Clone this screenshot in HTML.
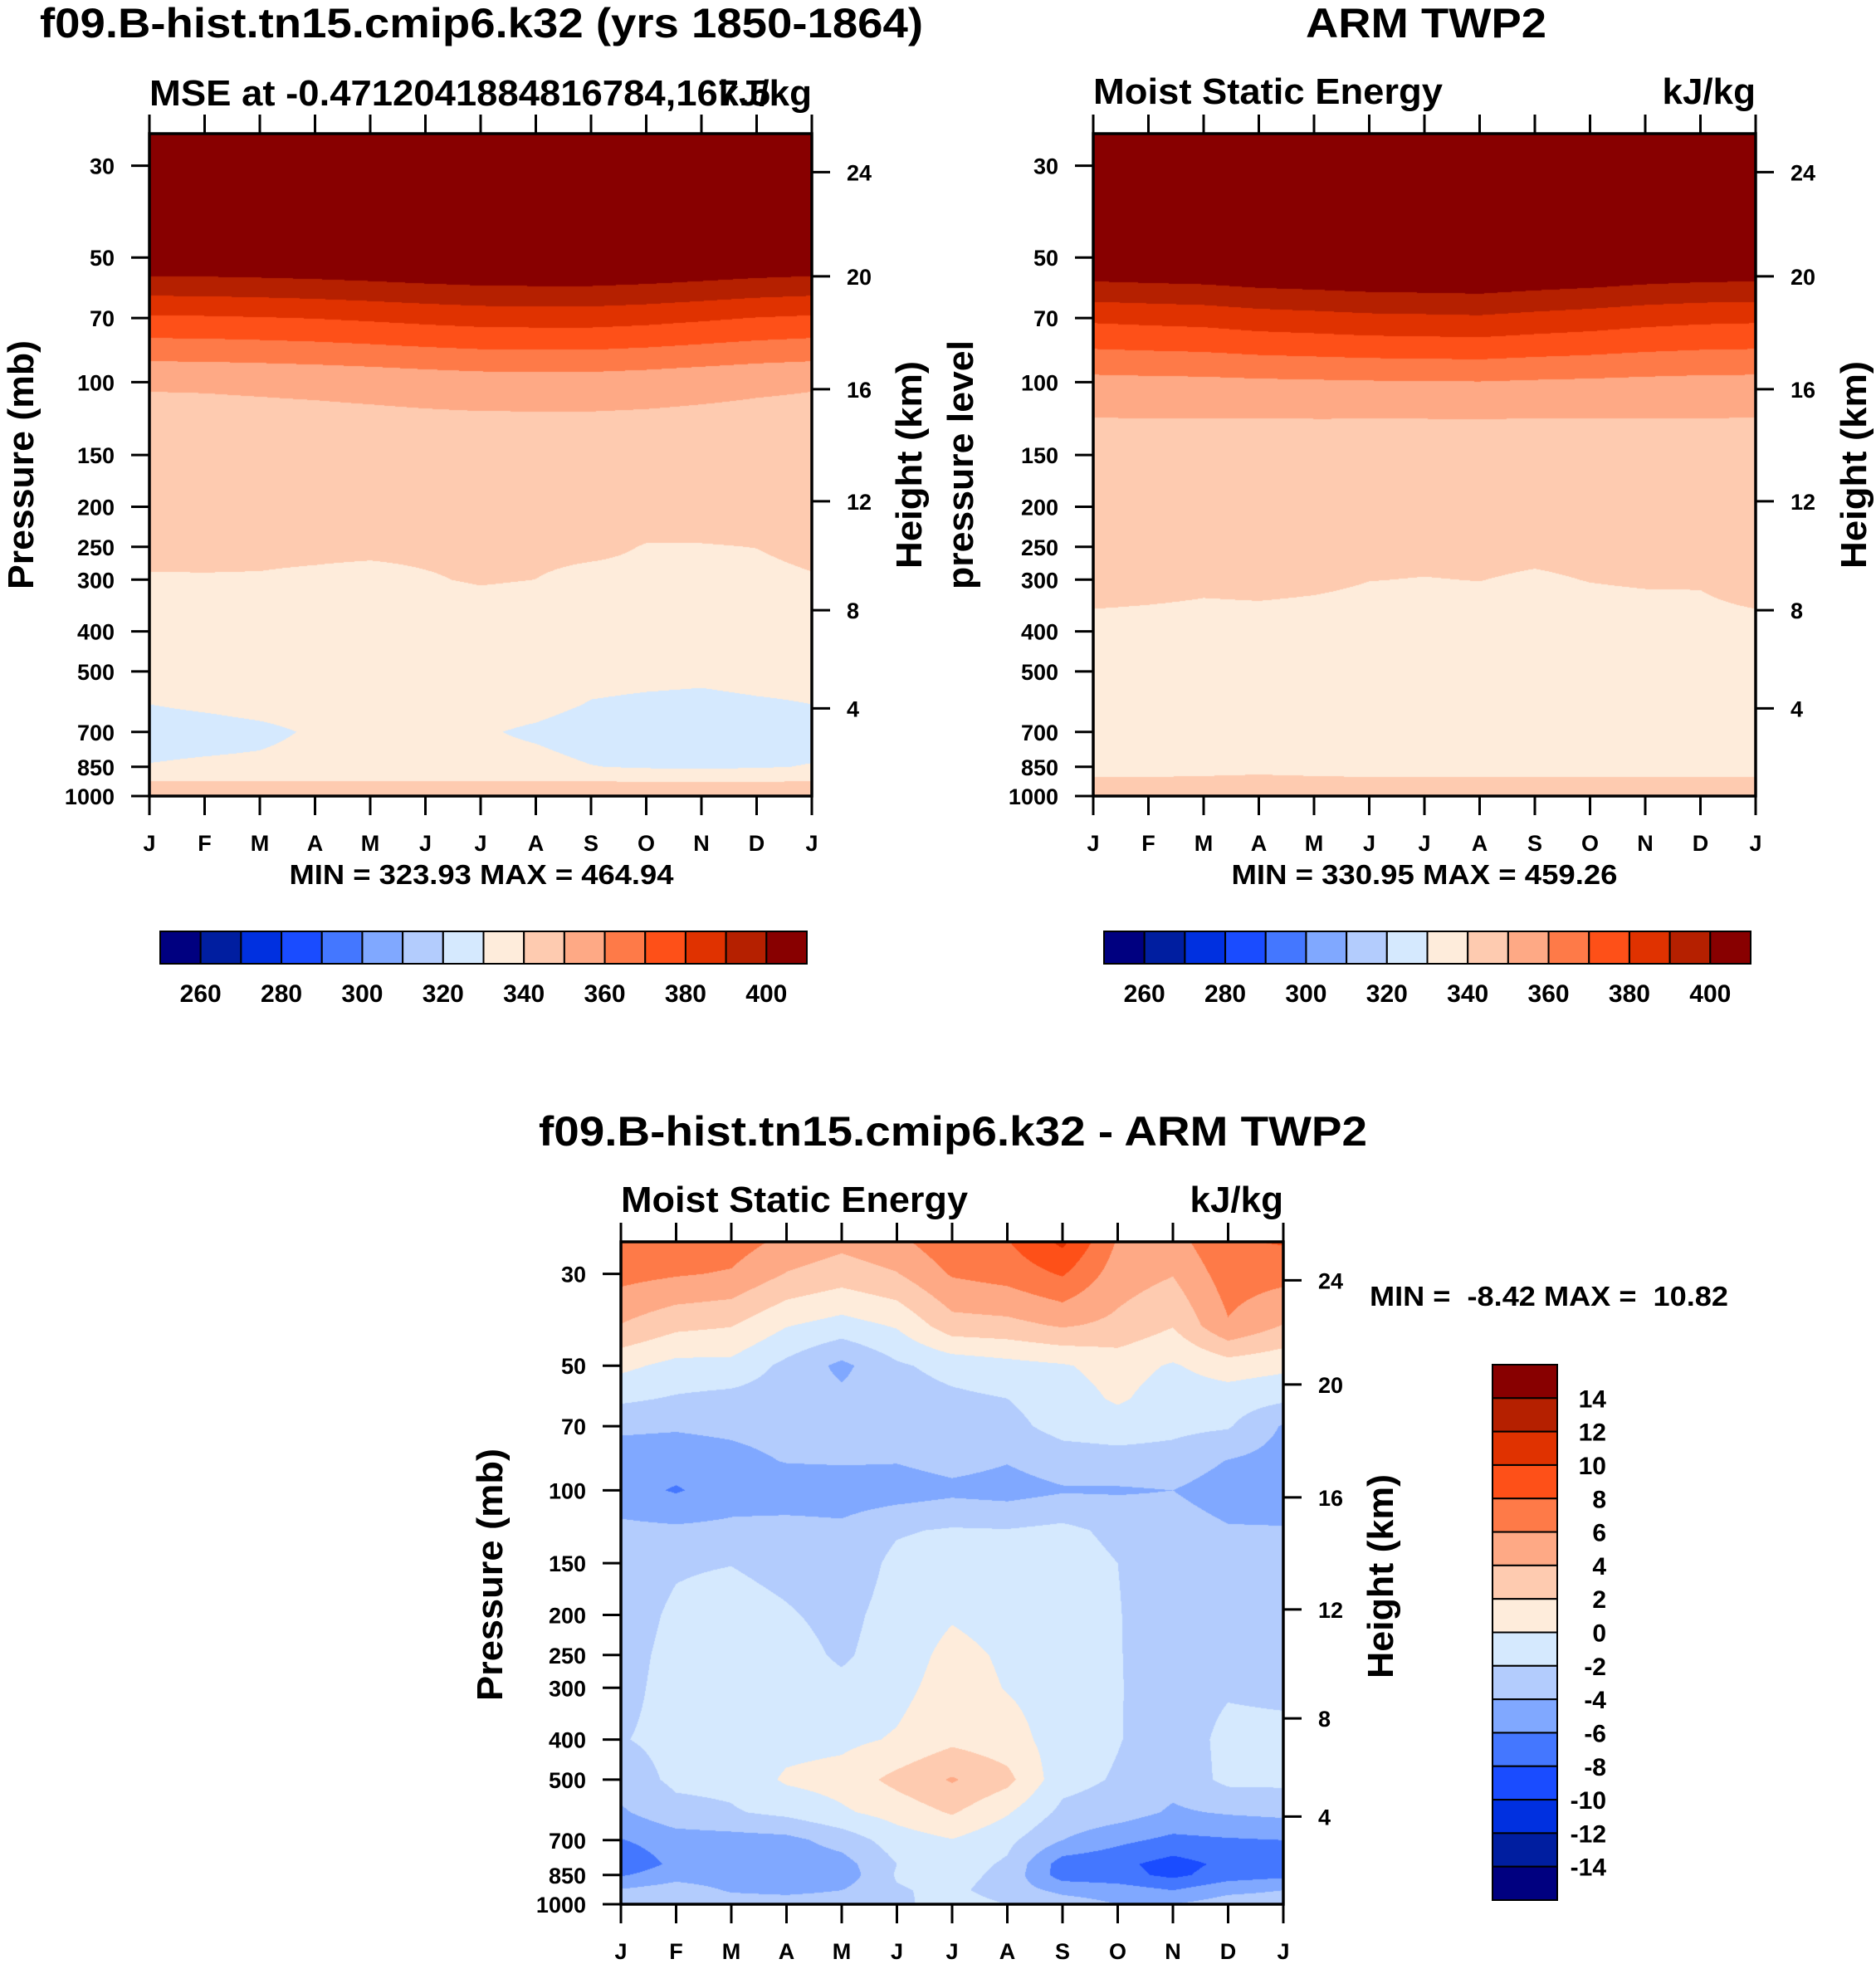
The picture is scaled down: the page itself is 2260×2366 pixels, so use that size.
<!DOCTYPE html>
<html><head><meta charset="utf-8">
<style>
html,body{margin:0;padding:0;background:#fff;}
#root{position:relative;width:2260px;height:2366px;overflow:hidden;background:#fff;font-family:"Liberation Sans",Arial,sans-serif;}
canvas{position:absolute;}
svg{position:absolute;left:0;top:0;}
text{font-family:"Liberation Sans",Arial,sans-serif;font-weight:bold;fill:#000;}
</style></head>
<body>
<div id="root">
<canvas id="c1" width="798" height="798" style="left:180px;top:161px"></canvas>
<canvas id="c2" width="798" height="798" style="left:1317px;top:161px"></canvas>
<canvas id="c3" width="798" height="798" style="left:748px;top:1496px"></canvas>
<svg id="ov" width="2260" height="2366">
<text x="580" y="45" font-size="50" text-anchor="middle" textLength="1064" lengthAdjust="spacingAndGlyphs">f09.B-hist.tn15.cmip6.k32 (yrs 1850-1864)</text>
<text x="1718" y="45" font-size="50" text-anchor="middle" textLength="290" lengthAdjust="spacingAndGlyphs">ARM TWP2</text>
<text x="180" y="127" font-size="44" textLength="748" lengthAdjust="spacingAndGlyphs">MSE at -0.4712041884816784,167.5</text>
<text x="978" y="127" font-size="44" text-anchor="end">kJ/kg</text>
<text x="1317" y="125" font-size="44" textLength="421" lengthAdjust="spacingAndGlyphs">Moist Static Energy</text>
<text x="2115" y="125" font-size="44" text-anchor="end">kJ/kg</text>
<text x="1148" y="1380" font-size="50" text-anchor="middle" textLength="998" lengthAdjust="spacingAndGlyphs">f09.B-hist.tn15.cmip6.k32 - ARM TWP2</text>
<text x="748" y="1460" font-size="44" textLength="418" lengthAdjust="spacingAndGlyphs">Moist Static Energy</text>
<text x="1546" y="1460" font-size="44" text-anchor="end">kJ/kg</text>
<text x="580" y="1065" font-size="33" text-anchor="middle" textLength="463" lengthAdjust="spacingAndGlyphs">MIN = 323.93 MAX = 464.94</text>
<text x="1716" y="1065" font-size="33" text-anchor="middle" textLength="465" lengthAdjust="spacingAndGlyphs">MIN = 330.95 MAX = 459.26</text>
<text x="1650" y="1573" font-size="33" textLength="432" lengthAdjust="spacingAndGlyphs" xml:space="preserve">MIN =  -8.42 MAX =  10.82</text>
<text transform="translate(40,560) rotate(-90)" font-size="44" text-anchor="middle" textLength="300" lengthAdjust="spacingAndGlyphs">Pressure (mb)</text>
<text transform="translate(1110,560) rotate(-90)" font-size="44" text-anchor="middle" textLength="250" lengthAdjust="spacingAndGlyphs">Height (km)</text>
<text transform="translate(1172,560) rotate(-90)" font-size="44" text-anchor="middle" textLength="300" lengthAdjust="spacingAndGlyphs">pressure level</text>
<text transform="translate(2248,560) rotate(-90)" font-size="44" text-anchor="middle" textLength="250" lengthAdjust="spacingAndGlyphs">Height (km)</text>
<text transform="translate(605,1897) rotate(-90)" font-size="44" text-anchor="middle" textLength="304" lengthAdjust="spacingAndGlyphs">Pressure (mb)</text>
<text transform="translate(1678,1899) rotate(-90)" font-size="44" text-anchor="middle" textLength="246" lengthAdjust="spacingAndGlyphs">Height (km)</text>
</svg>
</div>
<script>
// ---------- data ----------
const months = ["J","F","M","A","M","J","J","A","S","O","N","D","J"];
const pressureTicks = [30,50,70,100,150,200,250,300,400,500,700,850,1000];
const heightTicks = [24,20,16,12,8,4];
const heightTickPressure = [31.1,55.5,104,194,355.6,614];
const fullBounds = [260,270,280,290,300,310,320,330,340,350,360,370,380,390,400];
const fullLabels = [260,280,300,320,340,360,380,400];
const diffBounds = [-14,-12,-10,-8,-6,-4,-2,0,2,4,6,8,10,12,14];
const palette = ["#000080","#001ea0","#0030e0","#1a4cff","#4477ff","#80a8ff","#b3ccfd","#d5e9fe","#feecdb","#fecbb0","#fea985","#fe7a48","#fe5018","#e03200","#b52000","#880000"];

// model (kJ/kg), rows by pressure level, 13 monthly columns J..D,J
const fullLevels = [25,30,50,70,100,150,200,250,300,400,500,600,700,850,925,1000];
const m25 = [465,465,465,465,465.5,466,466,466,466,466,465.5,465,465];
const m30 = [450,450.3,450.8,451.5,452.5,453.8,454.8,455,455,454,452.5,451,450];
const m50 = [409.5,409.7,410.2,410.9,411.8,412.9,413.8,414,414,413.1,411.8,410.4,409.5];
const m70 = [378.6,378.9,379.5,380.3,381.5,382.9,384,384.3,384.3,383.2,381.5,379.7,378.6];
const m100 = [351,351.2,351.7,352.3,353.2,354.3,355.2,355.4,355.4,354.5,353.2,351.9,351];
const m150 = [343.4,343.3,343.2,343,342.7,342.4,342.1,342,342,342.3,342.7,343.1,343.4];
const m200 = [342,342,342,342,342,342,342,342,342,342,342,342,342];
const m250 = [341,341,341,341,341,341,341,341,341,339.8,339.8,340.05,341];
const m300 = [339.67,339.73,339.65,339.2,338.6,339.57,340.5,339.98,338.8,339,339,339,339.67];
const m400 = [336,336,336,336,336,336,336.1,336,336,336,336,336,336];
const m500 = [333,333,333,334,335,335,334,333,333,332.5,332,333,333];
const m600 = [330,331.5,333,334,335,335,334,333,329.5,328.5,328,329,330];
const m700 = [326,326.5,328,331,332.5,332.5,331,328.5,325.5,325,324.5,325.5,326];
const m850 = [330.5,331.5,331.8,333,334,334,333,333,330.3,329,328.5,329.2,330.5];
const m925 = [340.5,340.5,340.5,340.5,340.5,340.5,340.5,340.5,340.5,340.2,340.2,340.2,340.5];
const m1000 = [343,343,343,343,343.5,343.5,343.5,343,343,343,343,343,343];
const modelRows = [m25,m30,m50,m70,m100,m150,m200,m250,m300,m400,m500,m600,m700,m850,m925,m1000];

// observations (ARM TWP2)
const o25 = [459,459,459,459,459,459,459,459,459,459,459,459,459];
const o30 = [445,445.6,446,447.2,447.7,448.4,448.7,449,448,447.2,446,445.3,445];
const o50 = [411.7,412.4,413,414.5,415.2,416.1,416.4,416.8,415.5,414.5,413,412.1,411.7];
const o70 = [382,382.9,383.7,385.6,386.6,387.8,388.2,388.7,387,385.6,383.7,382.5,382];
const o100 = [357.1,357.5,357.8,358.5,358.9,359.3,359.5,359.7,359,358.5,357.8,357.3,357.1];
const o150 = [342.6,342.3,342.1,341.5,341.2,340.8,340.6,340.5,341,341.5,342.1,342.5,342.6];
const o200 = [343,342.8,342.6,342.3,342,341.8,341.6,341.5,341.7,342,342.3,342.7,343];
const o250 = [342.8,342.4,341.8,342,341.6,341.2,341,341.2,341,341.2,341.4,341.5,342.8];
const o300 = [342.6,341.9,341.1,341.4,340.86,340.07,339.9,340.07,339.5,340.12,340.44,340.5,342.6];
const o400 = [338,338,338,338,338,338,338,338,338,338,338,338,338];
const o500 = [336,336,336,336,336,336,336,336,336,336,336,336,336];
const o600 = [333.5,333.5,333.5,333.5,333.5,333.5,333.5,333.5,333.5,333.5,333.5,333.5,333.5];
const o700 = [332,332,332,332,332,332,332,332,332,332,332,332,332];
const o850 = [338,338,338.5,339,338.5,338,338,338,338,338,338,338,338];
const o925 = [341,341,341,341,341,341,341,341,341,341,341,341,341];
const o1000 = [343,343,343,343,343,343,343,343,343,343,343,343,343];
const obsRows = [o25,o30,o50,o70,o100,o150,o200,o250,o300,o400,o500,o600,o700,o850,o925,o1000];

// difference (model - obs)
const diffLevels = [25,30,40,50,60,70,85,100,125,150,200,250,300,400,500,600,700,800,850,925,1000];
const d25 = [7.3,7.5,7,5.5,4.6,5.5,7.5,7.9,10.5,5.8,5.2,7.8,8.2];
const d30 = [6.7,6.2,5.8,3.9,3,3.9,6.2,6.8,8.2,5,4.1,7,6.7];
const d40 = [3.9,2.5,2.1,0.1,-0.8,0.2,3.2,3.4,4.2,3.5,2.1,5.8,3.9];
const d50 = [0.5,-0.6,-0.6,-2.5,-4.5,-2.3,-1.3,-0.7,-0.2,0.8,-0.2,1,0.5];
const d60 = [-1.6,-2.2,-2.6,-3,-3.5,-3,-2.4,-2,-1,0.3,-1,-1,-1.6];
const d70 = [-3.7,-3.8,-3.6,-3.3,-3,-3,-3,-2.6,-1.3,-1,-1.5,-1.8,-4.2];
const d85 = [-4.8,-5,-4.6,-3.9,-3.8,-3.9,-3.3,-3.9,-3,-2.8,-2.8,-4.1,-4.8];
const d100 = [-5.2,-6.2,-5,-5.3,-5.2,-5,-4.5,-4.8,-4.2,-4.2,-4,-5,-5.5];
const d125 = [-3.5,-3.6,-3.5,-3.2,-3.5,-2.2,-1.8,-1.9,-1.5,-2.5,-3,-3.8,-3.8];
const d150 = [-3,-2.2,-2.05,-2.6,-3.3,-1.5,-1,-1.2,-1,-2,-3,-3,-3];
const d200 = [-2.8,-1.7,-1.2,-1.8,-2.6,-1.2,-0.2,-0.8,-0.8,-1.9,-3.2,-2.8,-2.8];
const d250 = [-2.6,-1.5,-1,-1.2,-2.3,-1,0.6,-0.3,-0.6,-1.9,-3,-2.6,-2.6];
const d300 = [-2.5,-1.4,-1,-1,-1.5,-0.6,0.9,-0.1,-0.8,-1.9,-2.8,-2.2,-2.4];
const d400 = [-2.1,-1.5,-1,-0.7,-0.5,0.2,1.5,0.8,-0.9,-1.9,-3,-1.5,-1.5];
const d500 = [-3,-1.6,-1.5,0.3,0.8,2.6,4.2,2.6,-1.3,-2.2,-3.3,-1.5,-1.5];
const d600 = [-4.3,-2.6,-2.2,-1.5,-0.3,0.8,2.2,0.2,-2.5,-3,-4.3,-3.8,-3.5];
const d700 = [-6.1,-5,-4.8,-4.6,-3.2,-1,-0.1,-1.5,-4,-5.5,-6.5,-6.2,-6];
const d800 = [-7.5,-5.5,-5.2,-5.2,-4.8,-2,-1,-2.3,-7,-7.5,-8.8,-7.5,-7.2];
const d850 = [-6.2,-4.8,-5,-5.3,-5.2,-1.8,-1.2,-2.6,-7,-7.3,-8.5,-7,-6.5];
const d925 = [-3.8,-3,-4.2,-4.5,-4,-2.2,-1.5,-3,-4.5,-5,-6,-4.5,-4];
const d1000 = [-3,-2.5,-3,-3,-3,-2.5,-1,-2,-3,-4,-4,-3,-3];
const diffRows = [d25,d30,d40,d50,d60,d70,d85,d100,d125,d150,d200,d250,d300,d400,d500,d600,d700,d800,d850,d925,d1000];

// ---------- scales ----------
const SIZE = 798, PTOP = 25.1, PBOT = 1000;
function yScale(p){ return SIZE*(Math.log(p)-Math.log(PTOP))/(Math.log(PBOT)-Math.log(PTOP)); }
function xScale(i){ return SIZE*i/12; }
function hexRGB(h){ return [parseInt(h.substr(1,2),16),parseInt(h.substr(3,2),16),parseInt(h.substr(5,2),16)]; }
const rgb = palette.map(hexRGB);

function renderField(id, levels, rows, bounds){
  const cv = document.getElementById(id), ctx = cv.getContext('2d');
  const img = ctx.createImageData(SIZE, SIZE), d = img.data;
  const lnL = levels.map(Math.log), lt = Math.log(PTOP), lb = Math.log(PBOT);
  for(let py=0; py<SIZE; py++){
    const lp = lt + (py+0.5)/SIZE*(lb-lt);
    let k = 0; while(k < lnL.length-2 && lp > lnL[k+1]) k++;
    let fy = (lp-lnL[k])/(lnL[k+1]-lnL[k]); fy = Math.max(0,Math.min(1,fy));
    const r0 = rows[k], r1 = rows[k+1];
    for(let px=0; px<SIZE; px++){
      const t = (px+0.5)/SIZE*12; let c = Math.min(11, Math.floor(t)); const fx = t-c;
      const v = (r0[c]*(1-fx)+r0[c+1]*fx)*(1-fy) + (r1[c]*(1-fx)+r1[c+1]*fx)*fy;
      let b = 0; while(b < bounds.length && v >= bounds[b]) b++;
      const col = rgb[b], o = (py*SIZE+px)*4;
      d[o]=col[0]; d[o+1]=col[1]; d[o+2]=col[2]; d[o+3]=255;
    }
  }
  ctx.putImageData(img,0,0);
}
renderField('c1', fullLevels, modelRows, fullBounds);
renderField('c2', fullLevels, obsRows, fullBounds);
renderField('c3', diffLevels, diffRows, diffBounds);

// ---------- axes ----------
const NS = "http://www.w3.org/2000/svg", ov = document.getElementById('ov');
function mk(tag, attrs){ const e=document.createElementNS(NS,tag); for(const k in attrs) e.setAttribute(k,attrs[k]); ov.appendChild(e); return e; }
function axes(prefix, X, Y){
  for(let i=0;i<months.length;i++){
    const x = X + xScale(i);
    const tb = mk('line',{x1:x,y1:Y+SIZE,x2:x,y2:Y+SIZE+23,stroke:'#000','stroke-width':3});
    
    
    const tt = mk('line',{x1:x,y1:Y,x2:x,y2:Y-23,stroke:'#000','stroke-width':3});
    
    
    const lb = mk('text',{x:x,y:Y+SIZE+66,'font-size':27,'text-anchor':'middle'});
    lb.textContent = months[i];
    
    
  }
  for(let i=0;i<pressureTicks.length;i++){
    const y = Y + yScale(pressureTicks[i]);
    const t = mk('line',{x1:X-22,y1:y,x2:X,y2:y,stroke:'#000','stroke-width':3});
    
    
    const l = mk('text',{x:X-42,y:y+10,'font-size':27,'text-anchor':'end'});
    l.textContent = pressureTicks[i];
    
    
  }
  for(let i=0;i<heightTicks.length;i++){
    const y = Y + yScale(heightTickPressure[i]);
    const t = mk('line',{x1:X+SIZE,y1:y,x2:X+SIZE+22,y2:y,stroke:'#000','stroke-width':3});
    
    
    const l = mk('text',{x:X+SIZE+42,y:y+10,'font-size':27});
    l.textContent = heightTicks[i];
    
    
  }
  const r = mk('rect',{x:X,y:Y,width:SIZE,height:SIZE,fill:'none',stroke:'#000','stroke-width':3.5});
  
  
}
axes('model',180,161);
axes('obs',1317,161);
axes('diff',748,1496);

function hbar(prefix, X0, X1, Y0, Y1){
  const w = (X1-X0)/palette.length;
  for(let i=0;i<palette.length;i++){
    const b = mk('rect',{x:X0+i*w,y:Y0,width:w,height:Y1-Y0,fill:palette[i],stroke:'#000','stroke-width':2});
    
    
  }
  for(let j=0;j<fullLabels.length;j++){
    const idx = fullBounds.indexOf(fullLabels[j])+1;
    const l = mk('text',{x:X0+idx*w,y:Y1+46,'font-size':30,'text-anchor':'middle'});
    l.textContent = fullLabels[j];
    
    
  }
}
hbar('model',193,972,1122,1161);
hbar('obs',1330,2109,1122,1161);

(function(){
  const X0=1798, X1=1876, Y0=1644, Y1=2289, n=palette.length, h=(Y1-Y0)/n;
  for(let i=0;i<n;i++){
    const b = mk('rect',{x:X0,y:Y0+i*h,width:X1-X0,height:h,fill:palette[n-1-i],stroke:'#000','stroke-width':2});
    
    
  }
  for(let j=0;j<diffBounds.length;j++){
    const v = diffBounds[diffBounds.length-1-j];
    const l = mk('text',{x:1935,y:Y0+(j+1)*h+11,'font-size':30,'text-anchor':'end'});
    l.textContent = v;
    
    
  }
})();
</script>
</body></html>
